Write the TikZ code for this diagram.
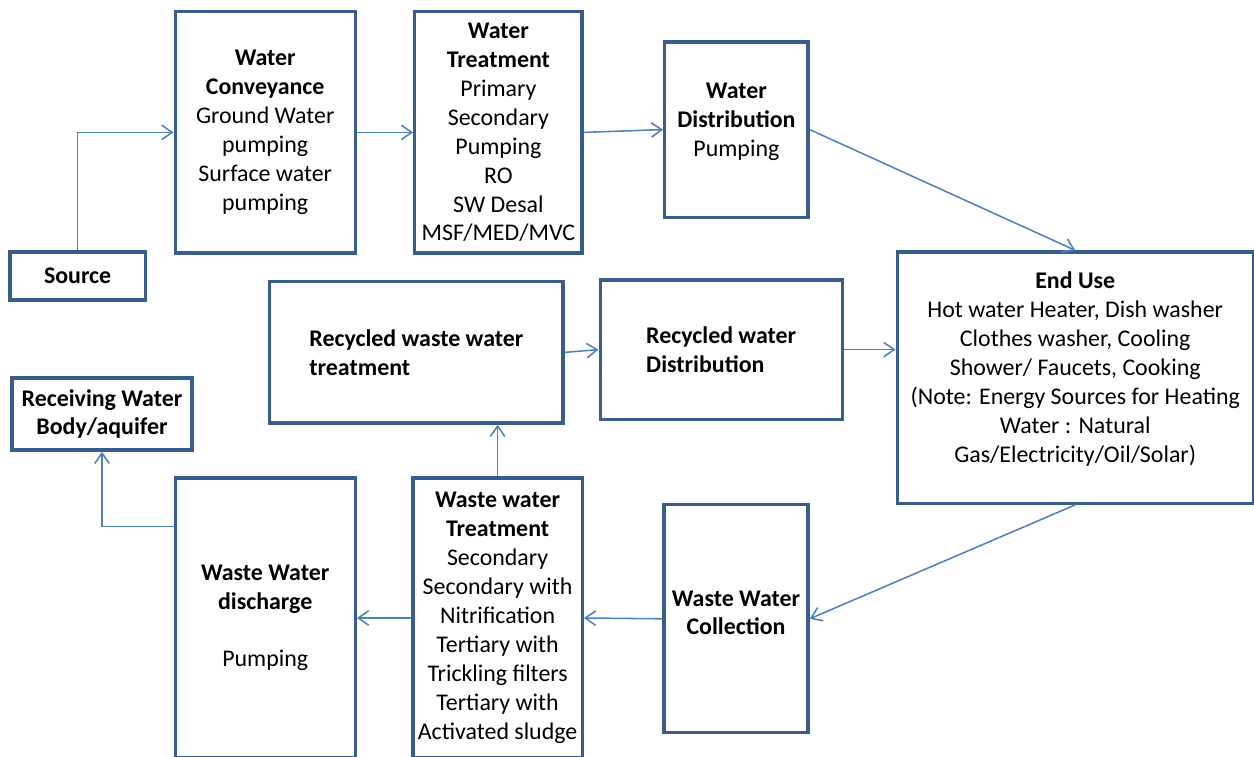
\documentclass[tikz,border=0pt]{standalone}
\usepackage{fontspec}
\setmainfont{Carlito}
\usetikzlibrary{arrows.meta, positioning, calc}
\definecolor{boxblue}{RGB}{56,93,138}
\definecolor{flowblue}{RGB}{79,129,189}

\begin{document}
\begin{tikzpicture}[
    stage/.style={draw=boxblue, line width=2.4pt, align=center, inner sep=2pt,
      font=\fontsize{17}{20.6}\selectfont},
    flow/.style={draw=flowblue, line width=1.1pt, -{Straight Barb[length=2.6mm,width=3.6mm]}}]
  \useasboundingbox (0,0) rectangle (31.35,18.9);
  % supply side
  \node[stage, minimum width=3.38cm, minimum height=1.2cm] (src) at (1.94,12.0) {\textbf{Source}};
  \node[stage, minimum width=4.5cm, minimum height=6.03cm] (conv) at (6.63,15.59)
    {\textbf{Water}\\\textbf{Conveyance}\\Ground Water\\pumping\\Surface water\\pumping};
  \node[stage, minimum width=4.18cm, minimum height=6.03cm] (treat) at (12.46,15.59)
    {\textbf{Water}\\\textbf{Treatment}\\Primary\\Secondary\\Pumping\\RO\\SW Desal\\MSF/MED/MVC};
  \node[stage, minimum width=3.58cm, minimum height=4.38cm] (dist) at (18.41,15.66)
    {\textbf{Water}\\\textbf{Distribution}\\Pumping\\[-6pt]\mbox{}};
  \node[stage, minimum width=8.9cm, minimum height=6.28cm] (use) at (26.88,9.46)
    {\textbf{End Use}\\Hot water Heater, Dish washer\\Clothes washer, Cooling\\Shower/ Faucets, Cooking\\
     (Note: Energy Sources for Heating\\Water : Natural\\Gas/Electricity/Oil/Solar)\\[-6pt]\mbox{}};
  % recycling
  \node[stage, align=left, minimum width=7.33cm, minimum height=3.53cm] (rtreat) at (10.41,10.09)
    {\textbf{Recycled waste water}\\\textbf{treatment}};
  \node[stage, align=left, minimum width=6.05cm, minimum height=3.48cm] (rdist) at (18.03,10.16)
    {\textbf{Recycled water}\\\textbf{Distribution}};
  % waste side
  \node[stage, minimum width=4.5cm, minimum height=1.8cm] (recv) at (2.55,8.55)
    {\textbf{Receiving Water}\\\textbf{Body/aquifer}};
  \node[stage, minimum width=4.5cm, minimum height=7.0cm] (disch) at (6.63,3.45)
    {\textbf{Waste Water}\\\textbf{discharge}\\[20pt]Pumping};
  \node[stage, minimum width=4.23cm, minimum height=7.0cm] (wtreat) at (12.44,3.45)
    {\textbf{Waste water}\\\textbf{Treatment}\\Secondary\\Secondary with\\Nitrification\\Tertiary with\\
     Trickling filters\\Tertiary with\\Activated sludge};
  \node[stage, minimum width=3.6cm, minimum height=5.7cm] (coll) at (18.4,3.43)
    {\textbf{Waste Water}\\\textbf{Collection}\\[-12pt]\mbox{}};
  \coordinate (tap) at ($(disch.north west)+(0,-1.25)$);

  \draw[flow] (src.north) |- (conv.west);
  \draw[flow] (conv.east) -- (treat.west);
  \draw[flow] (treat.east) -- (dist.west);
  \draw[flow] (dist.east) -- (use.north);
  \draw[flow] (use.south) -- (coll.east);
  \draw[flow] (coll.west) -- (wtreat.east);
  \draw[flow] (wtreat.west) -- (disch.east);
  \draw[flow] (tap) -| (recv.south);
  \draw[flow] (wtreat.north) -- (wtreat.north |- rtreat.south);
  \draw[flow] (rtreat.east) -- (rdist.west);
  \draw[flow] (rdist.east) -- (rdist.east -| use.west);
\end{tikzpicture}
\end{document}
